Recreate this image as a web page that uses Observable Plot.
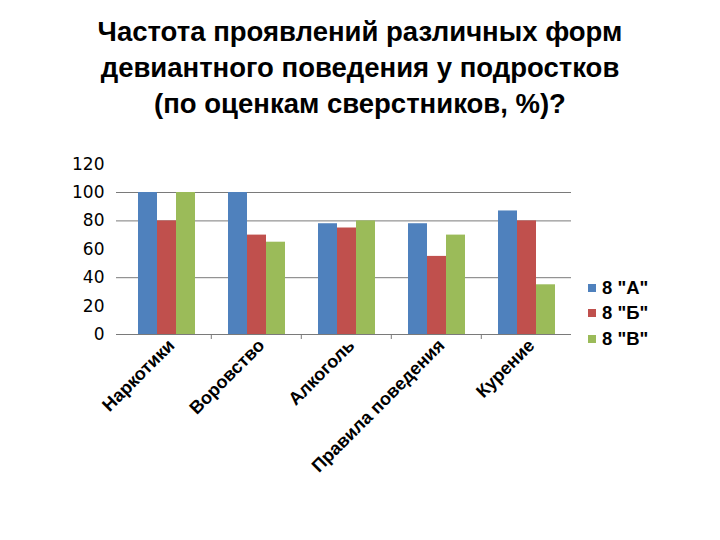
<!DOCTYPE html>
<html>
<head>
<meta charset="utf-8">
<script src="https://cdn.jsdelivr.net/npm/d3@7"></script>
<script src="https://cdn.jsdelivr.net/npm/@observablehq/plot@0.6"></script>
<style>
  html, body { margin: 0; padding: 0; background: #fff; }
  #wrap { position: relative; width: 720px; height: 540px; overflow: hidden; }
  #title { position: absolute; left: 0; top: 14px; width: 720px; text-align: center;
    font-family: "Liberation Sans", Arial, sans-serif; font-weight: bold; font-size: 27.5px; line-height: 36px; color: #000; }
  #chart { position: absolute; left: 0; top: 0; }
  #legend { position: absolute; left: 588px; top: 275px; font-family: "Liberation Sans", Arial, sans-serif; font-weight: bold; font-size: 18.5px; color: #000; }
  .lg-row { display: flex; align-items: center; height: 25.5px; }
  .lg-sw { width: 8px; height: 8px; margin-right: 6px; }
</style>
</head>
<body>
<div id="wrap">
  <div id="title">Частота проявлений различных форм<br>девиантного поведения у подростков<br>(по оценкам сверстников, %)?</div>
  <div id="chart"></div>
  <div id="legend"></div>
</div>
<script>
const categories = ["Наркотики", "Воровство", "Алкоголь", "Правила поведения", "Курение"];
const series = ["8 \"А\"", "8 \"Б\"", "8 \"В\""];
const valuesA = [100, 100, 78, 78, 87];
const valuesB = [80, 70, 75, 55, 80];
const valuesV = [100, 65, 80, 70, 35];
const colors = ["#4F81BD", "#C0504D", "#9BBB59"];
const yTicks = [0, 20, 40, 60, 80, 100, 120];
const gridTicks = [0, 40, 80, 100];

const seriesValues = [valuesA, valuesB, valuesV];
const data = [];
categories.forEach((c, i) => {
  series.forEach((s, j) => data.push({category: c, series: s, value: seriesValues[j][i]}));
});

const W = 720, H = 540;
const mL = 120, mR = 148, mT = 163.6, mB = 206;
const groupWidth = (W - mL - mR) / categories.length;

const chart = Plot.plot({
  width: W, height: H,
  marginLeft: mL, marginRight: mR, marginTop: mT, marginBottom: mB,
  style: {background: "transparent", overflow: "visible"},
  fx: {domain: categories, padding: 0, label: null, axis: null},
  x: {domain: series, paddingInner: 0, paddingOuter: 0.76, axis: null},
  y: {domain: [0, 120], label: null},
  color: {domain: series, range: colors},
  marks: [
    Plot.ruleY(gridTicks, {stroke: "#7a7a7a", strokeWidth: 1}),
    Plot.barY(data, {fx: "category", x: "series", y: "value", fill: "series"}),
    Plot.axisY({ticks: gridTicks, tickSize: 5, text: null, stroke: "#7a7a7a", strokeOpacity: 1}),
    Plot.axisY({ticks: yTicks, tickSize: 0, tickPadding: 17, fontSize: 17, fontFamily: "DejaVu Sans", fill: "#000", label: null}),
    Plot.axisFx({anchor: "bottom", ticks: categories.slice(1), text: null, tickSize: 5, dx: -groupWidth / 2, stroke: "#7a7a7a", strokeOpacity: 1, label: null}),
    Plot.axisFx({anchor: "bottom", tickSize: 0, tickRotate: -45, tickPadding: 8, dx: 5, fontSize: 18, fontWeight: "bold", fontFamily: "Liberation Sans", fill: "#000", label: null})
  ]
});
document.getElementById("chart").appendChild(chart);

const legend = document.getElementById("legend");
series.forEach((s, j) => {
  const row = document.createElement("div");
  row.className = "lg-row";
  const sw = document.createElement("div");
  sw.className = "lg-sw";
  sw.style.background = chart.scale("color").apply(s);
  const t = document.createElement("span");
  t.textContent = s;
  row.appendChild(sw); row.appendChild(t);
  legend.appendChild(row);
});
</script>
</body>
</html>
